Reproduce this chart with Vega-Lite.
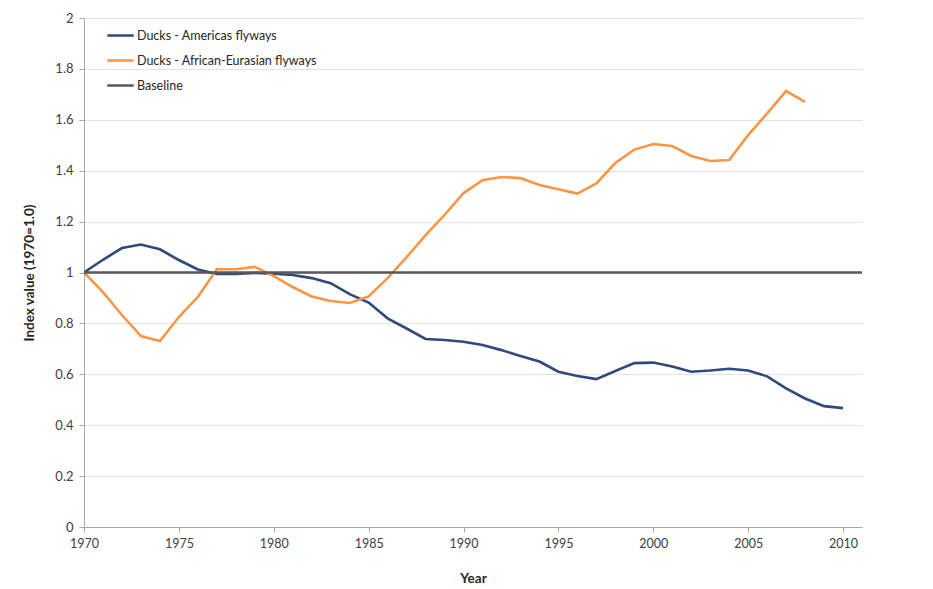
{
  "$schema": "https://vega.github.io/schema/vega-lite/v6.json",
  "width": 778,
  "height": 509,
  "autosize": "none",
  "padding": {"left": 84, "top": 18, "right": 71, "bottom": 62},
  "background": "white",
  "config": {
    "font": "Lato",
    "view": {"stroke": null}
  },
  "datasets": {
    "series": [
      {"year": 1970, "series": "Ducks - Americas flyways", "value": 1.0},
      {"year": 1971, "series": "Ducks - Americas flyways", "value": 1.05},
      {"year": 1972, "series": "Ducks - Americas flyways", "value": 1.096},
      {"year": 1973, "series": "Ducks - Americas flyways", "value": 1.11},
      {"year": 1974, "series": "Ducks - Americas flyways", "value": 1.091},
      {"year": 1975, "series": "Ducks - Americas flyways", "value": 1.049},
      {"year": 1976, "series": "Ducks - Americas flyways", "value": 1.012},
      {"year": 1977, "series": "Ducks - Americas flyways", "value": 0.994},
      {"year": 1978, "series": "Ducks - Americas flyways", "value": 0.994},
      {"year": 1979, "series": "Ducks - Americas flyways", "value": 0.998},
      {"year": 1980, "series": "Ducks - Americas flyways", "value": 0.995},
      {"year": 1981, "series": "Ducks - Americas flyways", "value": 0.99},
      {"year": 1982, "series": "Ducks - Americas flyways", "value": 0.978},
      {"year": 1983, "series": "Ducks - Americas flyways", "value": 0.958},
      {"year": 1984, "series": "Ducks - Americas flyways", "value": 0.915},
      {"year": 1985, "series": "Ducks - Americas flyways", "value": 0.882},
      {"year": 1986, "series": "Ducks - Americas flyways", "value": 0.82},
      {"year": 1987, "series": "Ducks - Americas flyways", "value": 0.78},
      {"year": 1988, "series": "Ducks - Americas flyways", "value": 0.739},
      {"year": 1989, "series": "Ducks - Americas flyways", "value": 0.735},
      {"year": 1990, "series": "Ducks - Americas flyways", "value": 0.728},
      {"year": 1991, "series": "Ducks - Americas flyways", "value": 0.715},
      {"year": 1992, "series": "Ducks - Americas flyways", "value": 0.695},
      {"year": 1993, "series": "Ducks - Americas flyways", "value": 0.672},
      {"year": 1994, "series": "Ducks - Americas flyways", "value": 0.65},
      {"year": 1995, "series": "Ducks - Americas flyways", "value": 0.61},
      {"year": 1996, "series": "Ducks - Americas flyways", "value": 0.593},
      {"year": 1997, "series": "Ducks - Americas flyways", "value": 0.581},
      {"year": 1998, "series": "Ducks - Americas flyways", "value": 0.613},
      {"year": 1999, "series": "Ducks - Americas flyways", "value": 0.644},
      {"year": 2000, "series": "Ducks - Americas flyways", "value": 0.646},
      {"year": 2001, "series": "Ducks - Americas flyways", "value": 0.631},
      {"year": 2002, "series": "Ducks - Americas flyways", "value": 0.61},
      {"year": 2003, "series": "Ducks - Americas flyways", "value": 0.615},
      {"year": 2004, "series": "Ducks - Americas flyways", "value": 0.622},
      {"year": 2005, "series": "Ducks - Americas flyways", "value": 0.615},
      {"year": 2006, "series": "Ducks - Americas flyways", "value": 0.592},
      {"year": 2007, "series": "Ducks - Americas flyways", "value": 0.545},
      {"year": 2008, "series": "Ducks - Americas flyways", "value": 0.505},
      {"year": 2009, "series": "Ducks - Americas flyways", "value": 0.475},
      {"year": 2010, "series": "Ducks - Americas flyways", "value": 0.467},
      {"year": 1970, "series": "Ducks - African-Eurasian flyways", "value": 1.0},
      {"year": 1971, "series": "Ducks - African-Eurasian flyways", "value": 0.923},
      {"year": 1972, "series": "Ducks - African-Eurasian flyways", "value": 0.833},
      {"year": 1973, "series": "Ducks - African-Eurasian flyways", "value": 0.75},
      {"year": 1974, "series": "Ducks - African-Eurasian flyways", "value": 0.731},
      {"year": 1975, "series": "Ducks - African-Eurasian flyways", "value": 0.825},
      {"year": 1976, "series": "Ducks - African-Eurasian flyways", "value": 0.904},
      {"year": 1977, "series": "Ducks - African-Eurasian flyways", "value": 1.013},
      {"year": 1978, "series": "Ducks - African-Eurasian flyways", "value": 1.013},
      {"year": 1979, "series": "Ducks - African-Eurasian flyways", "value": 1.022},
      {"year": 1980, "series": "Ducks - African-Eurasian flyways", "value": 0.986},
      {"year": 1981, "series": "Ducks - African-Eurasian flyways", "value": 0.943},
      {"year": 1982, "series": "Ducks - African-Eurasian flyways", "value": 0.906},
      {"year": 1983, "series": "Ducks - African-Eurasian flyways", "value": 0.888},
      {"year": 1984, "series": "Ducks - African-Eurasian flyways", "value": 0.88},
      {"year": 1985, "series": "Ducks - African-Eurasian flyways", "value": 0.906},
      {"year": 1986, "series": "Ducks - African-Eurasian flyways", "value": 0.978},
      {"year": 1987, "series": "Ducks - African-Eurasian flyways", "value": 1.06},
      {"year": 1988, "series": "Ducks - African-Eurasian flyways", "value": 1.147},
      {"year": 1989, "series": "Ducks - African-Eurasian flyways", "value": 1.226},
      {"year": 1990, "series": "Ducks - African-Eurasian flyways", "value": 1.312},
      {"year": 1991, "series": "Ducks - African-Eurasian flyways", "value": 1.363},
      {"year": 1992, "series": "Ducks - African-Eurasian flyways", "value": 1.375},
      {"year": 1993, "series": "Ducks - African-Eurasian flyways", "value": 1.371},
      {"year": 1994, "series": "Ducks - African-Eurasian flyways", "value": 1.344},
      {"year": 1995, "series": "Ducks - African-Eurasian flyways", "value": 1.327},
      {"year": 1996, "series": "Ducks - African-Eurasian flyways", "value": 1.31},
      {"year": 1997, "series": "Ducks - African-Eurasian flyways", "value": 1.35},
      {"year": 1998, "series": "Ducks - African-Eurasian flyways", "value": 1.43},
      {"year": 1999, "series": "Ducks - African-Eurasian flyways", "value": 1.483},
      {"year": 2000, "series": "Ducks - African-Eurasian flyways", "value": 1.505},
      {"year": 2001, "series": "Ducks - African-Eurasian flyways", "value": 1.497},
      {"year": 2002, "series": "Ducks - African-Eurasian flyways", "value": 1.458},
      {"year": 2003, "series": "Ducks - African-Eurasian flyways", "value": 1.438},
      {"year": 2004, "series": "Ducks - African-Eurasian flyways", "value": 1.442},
      {"year": 2005, "series": "Ducks - African-Eurasian flyways", "value": 1.54},
      {"year": 2006, "series": "Ducks - African-Eurasian flyways", "value": 1.625},
      {"year": 2007, "series": "Ducks - African-Eurasian flyways", "value": 1.713},
      {"year": 2008, "series": "Ducks - African-Eurasian flyways", "value": 1.67},
      {"year": 1970, "series": "Baseline", "value": 1.0},
      {"year": 2011, "series": "Baseline", "value": 1.0}
    ]
  },
  "data": {"name": "series"},
  "mark": {"type": "line", "strokeWidth": 2.6, "clip": true},
  "encoding": {
    "x": {
      "field": "year",
      "type": "quantitative",
      "scale": {"domain": [1970, 2011], "nice": false, "zero": false},
      "axis": {
        "values": [1970, 1975, 1980, 1985, 1990, 1995, 2000, 2005, 2010],
        "format": "d",
        "grid": false,
        "labelFlush": false,
        "title": "Year",
        "titleFont": "Lato",
        "titleFontSize": 13.5,
        "titleFontWeight": "bold",
        "titleColor": "#262626",
        "titlePadding": 22,
        "labelFontSize": 12.5,
        "labelColor": "#404040",
        "labelPadding": 5,
        "domainColor": "#a6a6a6",
        "tickColor": "#a6a6a6",
        "tickSize": 5
      }
    },
    "y": {
      "field": "value",
      "type": "quantitative",
      "scale": {"domain": [0, 2], "nice": false},
      "axis": {
        "values": [0, 0.2, 0.4, 0.6, 0.8, 1, 1.2, 1.4, 1.6, 1.8, 2],
        "format": "~g",
        "grid": true,
        "labelFlush": false,
        "gridColor": "#e3e3e3",
        "gridWidth": 1,
        "title": "Index value (1970=1.0)",
        "titleFont": "Lato",
        "titleFontSize": 13.5,
        "titleFontWeight": "bold",
        "titleColor": "#262626",
        "titlePadding": 18,
        "labelFontSize": 13,
        "labelColor": "#404040",
        "labelPadding": 6,
        "domainColor": "#a6a6a6",
        "tickColor": "#a6a6a6",
        "tickSize": 5
      }
    },
    "color": {
      "field": "series",
      "type": "nominal",
      "scale": {
        "domain": ["Ducks - Americas flyways", "Ducks - African-Eurasian flyways", "Baseline"],
        "range": ["#2f4a7c", "#f79646", "#595959"]
      },
      "legend": {
        "orient": "none",
        "legendX": 22,
        "legendY": 3,
        "title": null,
        "symbolType": "stroke",
        "symbolSize": 700,
        "symbolStrokeWidth": 2.5,
        "labelFontSize": 12.5,
        "labelLimit": 400,
        "labelColor": "#262626",
        "labelOffset": 2,
        "rowPadding": 4,
        "symbolOffset": 0
      }
    }
  }
}
